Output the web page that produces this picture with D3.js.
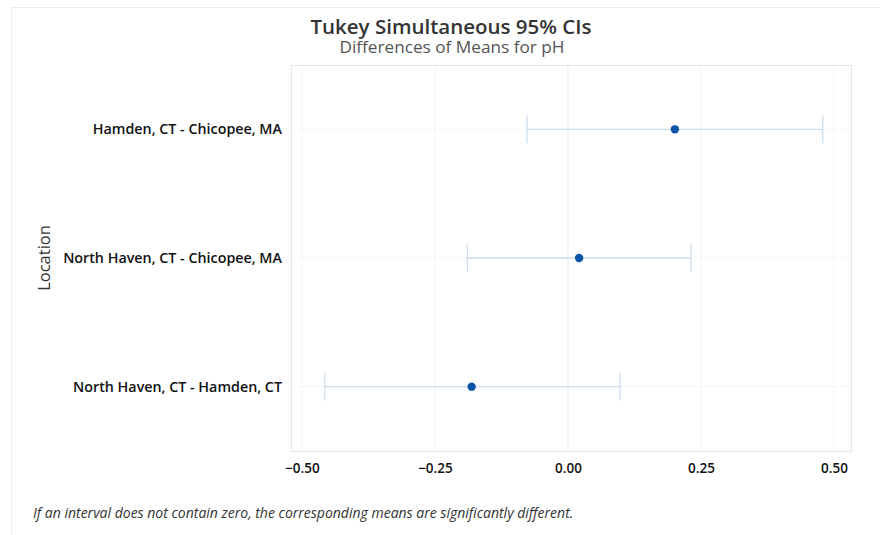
<!DOCTYPE html>
<html lang="en">
<head>
<meta charset="UTF-8">
<title>Tukey Simultaneous 95% CIs</title>
<script src="https://d3js.org/d3.v7.min.js"></script>
<style>
  body { margin: 0; background: #fff; }
  svg, svg text { font-family: "Open Sans", "Noto Sans", sans-serif; }
  .tick text { font-weight: 600; font-size: 13.5px; fill: #111; }
  .yaxis .tick text { font-size: 14.3px; }
</style>
</head>
<body>
<svg width="880" height="535"></svg>
<script>
// comparisons, top to bottom
const comparisons = ["Hamden, CT - Chicopee, MA", "North Haven, CT - Chicopee, MA", "North Haven, CT - Hamden, CT"];
const diffs = [0.201, 0.021, -0.181];
const lower = [-0.077, -0.189, -0.457];
const upper = [0.479, 0.231, 0.098];
const xTicks = [-0.5, -0.25, 0, 0.25, 0.5];

const svg = d3.select("svg");
const frame = {left: 291, right: 851, top: 65, bottom: 451};

// faint outer card border
svg.append("path")
  .attr("d", "M11.5,535 V7.5 H880")
  .attr("fill", "none").attr("stroke", "#ececec");

const x = d3.scaleLinear()
  .domain([-0.5205, 0.5320])
  .range([frame.left, frame.right]);

const y = d3.scalePoint()
  .domain(comparisons)
  .range([frame.top, frame.bottom])
  .padding(0.5);

// grid
svg.append("g").selectAll("line").data(xTicks).join("line")
  .attr("x1", d => x(d)).attr("x2", d => x(d))
  .attr("y1", frame.top).attr("y2", frame.bottom)
  .attr("stroke", d => d === 0 ? "#e3ebf1" : "#f3f5f7");

svg.append("g").selectAll("line").data(comparisons).join("line")
  .attr("x1", frame.left).attr("x2", frame.right)
  .attr("y1", d => y(d)).attr("y2", d => y(d))
  .attr("stroke", "#f3f5f7");

// frame
svg.append("rect")
  .attr("x", frame.left + 0.5).attr("y", frame.top + 0.5)
  .attr("width", frame.right - frame.left).attr("height", frame.bottom - frame.top)
  .attr("fill", "none").attr("stroke", "#e1e6eb");

// axes
const xAxis = svg.append("g")
  .attr("transform", `translate(0,${frame.bottom})`)
  .call(d3.axisBottom(x).tickValues(xTicks).tickFormat(d3.format(".2f")).tickSize(0).tickPadding(12));
xAxis.attr("font-family", null).attr("font-size", null);
xAxis.select(".domain").remove();

const yAxis = svg.append("g")
  .attr("class", "yaxis")
  .attr("transform", `translate(${frame.left},0)`)
  .call(d3.axisLeft(y).tickSize(0).tickPadding(9));
yAxis.attr("font-family", null).attr("font-size", null);
yAxis.select(".domain").remove();

// intervals
const rows = comparisons.map((c, i) => ({c, d: diffs[i], lo: lower[i], hi: upper[i]}));
const ci = svg.append("g").attr("stroke", "#cfdeed").attr("stroke-width", 1.3);
ci.selectAll(".ci").data(rows).join("line")
  .attr("x1", d => x(d.lo)).attr("x2", d => x(d.hi))
  .attr("y1", d => y(d.c)).attr("y2", d => y(d.c));
ci.selectAll(".lo").data(rows).join("line")
  .attr("x1", d => x(d.lo)).attr("x2", d => x(d.lo))
  .attr("y1", d => y(d.c) - 14).attr("y2", d => y(d.c) + 14);
ci.selectAll(".hi").data(rows).join("line")
  .attr("x1", d => x(d.hi)).attr("x2", d => x(d.hi))
  .attr("y1", d => y(d.c) - 14).attr("y2", d => y(d.c) + 14);

svg.append("g").selectAll("circle").data(rows).join("circle")
  .attr("cx", d => x(d.d)).attr("cy", d => y(d.c))
  .attr("r", 4.2).attr("fill", "#0a55a8");

// titles
svg.append("text").attr("x", 451).attr("y", 34)
  .attr("text-anchor", "middle").attr("font-size", 20.5).attr("font-weight", 600).attr("fill", "#333")
  .text("Tukey Simultaneous 95% CIs");
svg.append("text").attr("x", 452).attr("y", 53)
  .attr("text-anchor", "middle").attr("font-size", 17.2).attr("fill", "#555")
  .text("Differences of Means for pH");

svg.append("text")
  .attr("transform", "translate(50,258) rotate(-90)")
  .attr("text-anchor", "middle").attr("font-size", 16.5).attr("fill", "#333")
  .text("Location");

svg.append("text").attr("x", 33).attr("y", 518)
  .attr("font-size", 14).attr("font-style", "italic").attr("fill", "#333")
  .text("If an interval does not contain zero, the corresponding means are significantly different.");
</script>
</body>
</html>
